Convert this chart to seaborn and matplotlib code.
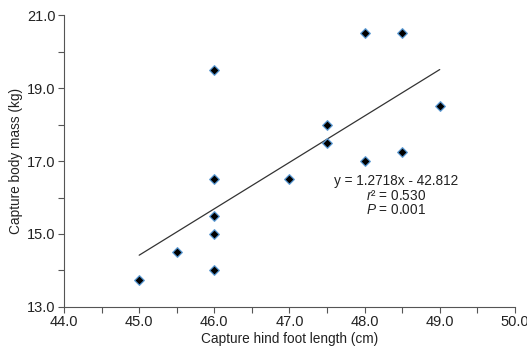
"""Capture body mass vs hind foot length, with the fitted line."""

import matplotlib.pyplot as plt
import numpy as np
import pandas as pd
import seaborn as sns
from matplotlib.ticker import MultipleLocator

hind_foot_cm = [45.0, 45.5, 46.0, 46.0, 46.0, 46.0, 46.0, 47.0,
                47.5, 47.5, 48.0, 48.0, 48.5, 48.5, 49.0]
body_mass_kg = [13.75, 14.5, 19.5, 16.5, 15.5, 15.0, 14.0, 16.5,
                18.0, 17.5, 20.5, 17.0, 20.5, 17.25, 18.5]

slope = 1.2718
intercept = -42.812
fit_label = ["y = 1.2718x - 42.812", "$r$² = 0.530", "$P$ = 0.001"]

sns.set_theme(style="white")
plt.rcParams["font.family"] = ["Liberation Sans", "DejaVu Sans"]
plt.rcParams["mathtext.fontset"] = "custom"
plt.rcParams["mathtext.it"] = "Liberation Sans:italic"
plt.rcParams["mathtext.rm"] = "Liberation Sans"

df = pd.DataFrame({"foot": hind_foot_cm, "mass": body_mass_kg})

fig = plt.figure(figsize=(5.27, 3.58), dpi=100)
ax = fig.add_axes([0.1215, 0.1425, 0.8555, 0.8155])

sns.scatterplot(data=df, x="foot", y="mass", marker="D", s=24,
                color="black", edgecolor="#5b9bd5", linewidth=0.9, ax=ax, zorder=3)

line_x = np.array([min(hind_foot_cm), max(hind_foot_cm)])
ax.plot(line_x, slope * line_x + intercept, color="#333333", linewidth=0.9, zorder=2)

ax.text(48.42, 16.45, fit_label[0], ha="center", va="center", fontsize=9.8, color="#222222")
ax.text(48.42, 16.05, fit_label[1], ha="center", va="center", fontsize=9.8, color="#222222")
ax.text(48.42, 15.65, fit_label[2], ha="center", va="center", fontsize=9.8, color="#222222")

ax.set_xlim(44.0, 50.0)
ax.set_ylim(13.0, 21.0)
ax.xaxis.set_major_locator(MultipleLocator(1.0))
ax.xaxis.set_minor_locator(MultipleLocator(0.5))
ax.yaxis.set_major_locator(MultipleLocator(2.0, offset=1.0))
ax.yaxis.set_minor_locator(MultipleLocator(1.0))
ax.xaxis.set_major_formatter(lambda v, _: f"{v:.1f}")
ax.yaxis.set_major_formatter(lambda v, _: f"{v:.1f}")
ax.tick_params(which="both", direction="out", length=4, width=0.8,
               color="#555555", labelsize=10.5, labelcolor="#222222", pad=2)
ax.tick_params(axis="x", which="both", bottom=True)
ax.tick_params(axis="y", which="both", left=True)

sns.despine(ax=ax)
for side in ("left", "bottom"):
    ax.spines[side].set_color("#555555")
    ax.spines[side].set_linewidth(0.8)

ax.set_xlabel("Capture hind foot length (cm)", fontsize=9.8, color="#222222", labelpad=2)
ax.set_ylabel("Capture body mass (kg)", fontsize=9.8, color="#222222", labelpad=3)

fig.savefig("out.png", dpi=100)
plt.close(fig)
